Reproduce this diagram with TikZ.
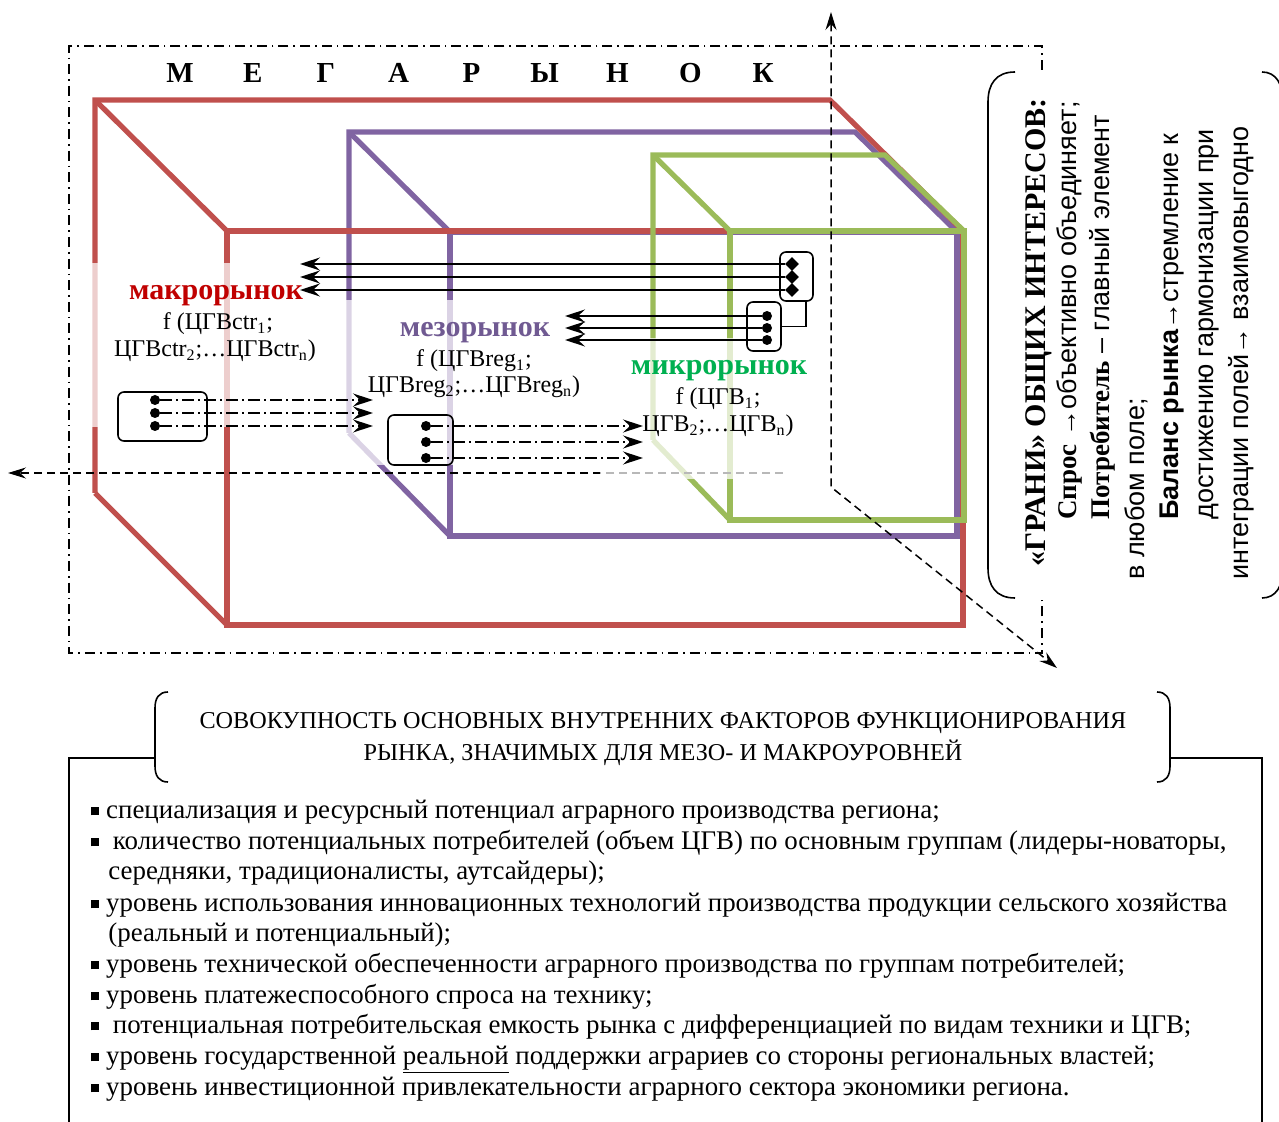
\documentclass[tikz,border=0pt]{standalone}
\usepackage{fontspec}
\setmainfont{Liberation Serif}
\setsansfont{Liberation Sans}
\usepackage{tikz}
\usetikzlibrary{shapes.geometric,arrows.meta,positioning,calc}

\definecolor{macroline}{HTML}{C0504D}
\definecolor{mesoline}{HTML}{8064A2}
\definecolor{microline}{HTML}{9BBB59}
\definecolor{macrotext}{HTML}{C00000}
\definecolor{mesotext}{HTML}{705A92}
\definecolor{microtext}{HTML}{00B050}

\newcommand{\bul}{\raisebox{0.22ex}{\rule{0.3em}{0.3em}}}
\newcommand{\fsz}[2]{\fontsize{#1}{#2}\selectfont}

\begin{document}
\begin{tikzpicture}[x=0.5pt,y=-0.5pt,
    edge/.style={line width=2.6pt,line join=miter},
    veil/.style={fill=white,fill opacity=0.72,draw=none},
    frame/.style={line width=0.6pt,dash pattern=on 5pt off 2.5pt on 0.8pt off 2.5pt},
    axis/.style={line width=0.75pt,dash pattern=on 4pt off 2.5pt},
    flow/.style={line width=0.8pt,-{Stealth[length=10pt,width=6.5pt,inset=3.5pt]}},
    dotflow/.style={flow,dash pattern=on 6pt off 2pt on 1pt off 2pt},
    grpbox/.style={draw,line width=0.8pt,rounded corners=3pt,minimum width=#1,minimum height=24.5pt,inner sep=0pt},
    dot/.style={circle,fill,inner sep=0pt,minimum size=5pt},
    rhomb/.style={diamond,fill,inner sep=0pt,minimum size=7pt},
    megaletter/.style={font=\fsz{14.5}{16}\bfseries,anchor=base,inner sep=0pt},
    mkname/.style={font=\fsz{15}{17}\bfseries,anchor=base,inner sep=0pt},
    mkfunc/.style={font=\fsz{12}{14},anchor=base,inner sep=0pt},
    grani/.style={rotate=90,anchor=base west,inner sep=0pt,font=\fsz{13.5}{15}\sffamily},
    factor/.style={anchor=base west,inner sep=0pt,font=\fsz{13.45}{15}},
    brace/.style={line width=0.8pt}
  ]
\useasboundingbox (0,0) rectangle (1279,1122);

% dash-dot frame of the megamarket
\draw[frame] (1042,70) -- (1042,46) -- (69,46) -- (69,653) -- (1042,653) -- (1042,598);
\foreach \ch [count=\i] in {М,Е,Г,А,Р,Ы,Н,О,К}
  \node[megaletter] (mega\i) at ({180+72.9*(\i-1)},83) {\ch};

% meso, macro and micro cubes
\draw[edge,mesoline] (349,433) -- (349,132) -- (855,132) -- (957,232);
\draw[edge,mesoline] (349,132) -- (450,232);
\draw[edge,mesoline] (349,433) -- (450,536);
\draw[edge,mesoline] (450,232) rectangle (957,536);
\draw[edge,macroline] (95,493) -- (95,100) -- (830,100) -- (963,231);
\draw[edge,macroline] (95,100) -- (227,231);
\draw[edge,macroline] (95,493) -- (227,625);
\draw[edge,macroline] (227,231) rectangle (963,625);
\draw[edge,microline] (653,440) -- (653,155) -- (885,155) -- (964,231);
\draw[edge,microline] (653,155) -- (730,231);
\draw[edge,microline] (653,440) -- (730,520);
\draw[edge,microline] (730,231) rectangle (964,520);

% axes
\coordinate (axup) at (831,12);
\coordinate (orig) at (831,487);
\coordinate (axdiag) at (1057,668);
\coordinate (axstart) at (783,473);
\coordinate (axleft) at (8,473);
\draw[axis,{Stealth[length=9pt,width=5.5pt,inset=3pt]}-{Stealth[length=9pt,width=5.5pt,inset=3pt]}] (axup) -- (orig) -- (axdiag);
\draw[axis,-{Stealth[length=9pt,width=5.5pt,inset=3pt]}] (axstart) -- (axleft);

% light veils under the labels
\fill[veil] (85,263) rectangle (237,427);
\fill[veil] (340,300) rectangle (460,465);
\fill[veil] (600,338) rectangle (785,479);

% groups of links
\node[grpbox=16.5pt] (boxA) at (796.5,276.5) {};
\node[grpbox=17pt] (boxB) at (764,326.5) {};
\node[grpbox=44.5pt] (boxC) at (162.5,416.5) {};
\node[grpbox=32.5pt,minimum height=25pt] (boxD) at (420.5,440) {};
\draw[line width=0.8pt] ([xshift=-4pt]boxA.south east) |- (boxB.east);

\foreach \y [count=\i] in {264,277,290} {
  \node[rhomb] (rA\i) at (792,\y) {};
  \coordinate (tA\i) at (300,\y);
  \draw[flow] (rA\i) -- (tA\i);
}
\foreach \y [count=\i] in {316,328,340} {
  \node[dot] (dB\i) at (767,\y) {};
  \coordinate (tB\i) at (565,\y);
  \draw[flow] (dB\i) -- (tB\i);
}
\foreach \y [count=\i] in {400,413,426} {
  \node[dot] (dC\i) at (155,\y) {};
  \coordinate (tC\i) at (373,\y);
  \draw[dotflow] (dC\i) -- (tC\i);
}
\foreach \y [count=\i] in {426,442,458} {
  \node[dot] (dD\i) at (426,\y) {};
  \coordinate (tD\i) at (643,\y);
  \draw[dotflow] (dD\i) -- (tD\i);
}

% market labels
\node[mkname,text=macrotext] (macro) at (216,300) {макрорынок};
\node[mkfunc] (macrof1) at (218,330) {f (ЦГВctr\textsubscript{1};};
\node[mkfunc] (macrof2) at (215,357) {ЦГВctr\textsubscript{2};…ЦГВctr\textsubscript{n})};
\node[mkname,text=mesotext] (meso) at (475,337) {мезорынок};
\node[mkfunc] (mesof1) at (474,367) {f (ЦГВreg\textsubscript{1};};
\node[mkfunc] (mesof2) at (474,393) {ЦГВreg\textsubscript{2};…ЦГВreg\textsubscript{n})};
\node[mkname,text=microtext] (micro) at (719,375) {микрорынок};
\node[mkfunc] (microf1) at (718,405) {f (ЦГВ\textsubscript{1};};
\node[mkfunc] (microf2) at (718,432) {ЦГВ\textsubscript{2};…ЦГВ\textsubscript{n})};

% faces of common interests
\draw[brace] (1015,72) .. controls (996,72) and (988,84) .. (988,102) -- (988,568) .. controls (988,586) and (996,598) .. (1015,598);
\draw[brace] (1262,72) .. controls (1276,72) and (1283,84) .. (1283,102) -- (1283,568) .. controls (1283,586) and (1276,598) .. (1262,598);
\node[grani,font=\fsz{15}{17}\rmfamily\bfseries] (g1) at (1045,567) {«ГРАНИ» ОБЩИХ ИНТЕРЕСОВ:};
\node[grani] (g2) at (1076,520) {{\rmfamily\bfseries Спрос} →объективно объединяет;};
\node[grani] (g3) at (1109,520) {{\rmfamily\bfseries Потребитель} – главный элемент};
\node[grani] (g4) at (1144,580) {в любом поле;};
\node[grani] (g5) at (1178,520) {{\bfseries Баланс рынка}→стремление к};
\node[grani] (g6) at (1213,520) {достижению гармонизации при};
\node[grani] (g7) at (1248,580) {интеграции полей→ взаимовыгодно};

% internal factors
\draw[brace] (168,692) .. controls (159,692) and (155,698) .. (155,708) -- (155,766) .. controls (155,776) and (159,782) .. (168,782);
\draw[brace] (1157,692) .. controls (1166,692) and (1170,698) .. (1170,708) -- (1170,766) .. controls (1170,776) and (1166,782) .. (1157,782);
\draw[brace] (155,758) -- (69,758) -- (69,1130);
\draw[brace] (1170,758) -- (1262,758) -- (1262,1130);
\node[mkfunc,font=\fsz{12.1}{14}] (hdr1) at (663,728) {СОВОКУПНОСТЬ ОСНОВНЫХ ВНУТРЕННИХ ФАКТОРОВ ФУНКЦИОНИРОВАНИЯ};
\node[mkfunc,font=\fsz{12.1}{14}] (hdr2) at (663,760) {РЫНКА, ЗНАЧИМЫХ ДЛЯ МЕЗО- И МАКРОУРОВНЕЙ};

\node[factor] (f1) at (91,818) {\bul\ специализация и ресурсный потенциал аграрного производства региона;};
\node[factor] (f2) at (91,849) {\bul\ \ количество потенциальных потребителей (объем ЦГВ) по основным группам (лидеры-новаторы,};
\node[factor] (f3) at (108,879) {середняки, традиционалисты, аутсайдеры);};
\node[factor] (f4) at (91,911) {\bul\ уровень использования инновационных технологий производства продукции сельского хозяйства};
\node[factor] (f5) at (108,941) {(реальный и потенциальный);};
\node[factor] (f6) at (91,972) {\bul\ уровень технической обеспеченности аграрного производства по группам потребителей;};
\node[factor] (f7) at (91,1003) {\bul\ уровень платежеспособного спроса на технику;};
\node[factor] (f8) at (91,1033) {\bul\ \ потенциальная потребительская емкость рынка с дифференциацией по видам техники и ЦГВ;};
\node[factor] (f9) at (91,1064) {\bul\ уровень государственной \underline{реальной} поддержки аграриев со стороны региональных властей;};
\node[factor] (f10) at (91,1095) {\bul\ уровень инвестиционной привлекательности аграрного сектора экономики региона.};
\end{tikzpicture}
\end{document}
